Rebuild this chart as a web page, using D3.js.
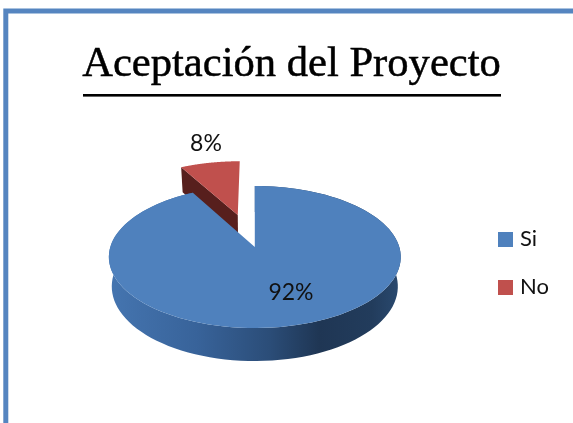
<!DOCTYPE html>
<html><head><meta charset="utf-8">
<script src="https://cdn.jsdelivr.net/npm/d3@7"></script>
<style>html,body{margin:0;padding:0;background:#fff;overflow:hidden}svg{display:block;filter:blur(0.4px)}</style>
</head><body><svg id="c" width="573" height="423"></svg>
<script>
const title = "Aceptación del Proyecto";
const categories = ["Si", "No"];
const values = [92, 8];
const labels = ["92%", "8%"];
const colors = ["#4f81bd", "#c0504d"];
const wallColors = ["#2f5583", "#571f1d"];

const svg = d3.select("#c");
const W = 573, H = 423;

// Chart frame
svg.append("path").attr("d", `M5.8,${H} V11 H${W}`).attr("fill", "none")
  .attr("stroke", "#5585c0").attr("stroke-width", 5);

// Perspective model of a tilted disc
const cx = 254.8, cy = 247, rxB = 144.5, ryA = 69.6, persp = 0.141, explode = 0.507;
function project(u, v, z) {
  const w = 1 - persp * v;
  const x = rxB * u / w, y = ryA * v / w;
  const sy = cy + y;
  const depth = z * (33 - (328 - sy) * 0.05);
  return [cx + x * (1 - 0.02 * z), sy + depth];
}
const pie = d3.pie().sort(null).value(d => d)(values);
const lineGen = d3.line();
const defs = svg.append("defs");
const grad = defs.append("linearGradient").attr("id", "wall")
  .attr("gradientUnits", "userSpaceOnUse").attr("x1", 109).attr("x2", 401).attr("y1", 0).attr("y2", 0);
[[0, "#4575b0"], [0.3, "#38639a"], [0.55, "#2b4d78"], [0.72, "#1f3654"], [0.9, "#223c5c"], [1, "#2a4a70"]]
  .forEach(s => grad.append("stop").attr("offset", s[0]).attr("stop-color", s[1]));

function slice(d) {
  const mid = (d.startAngle + d.endAngle) / 2;
  const exploded = d.index === 1;
  const ox = exploded ? explode * Math.sin(mid) : 0;
  const oy = exploded ? -explode * Math.cos(mid) : 0;
  const at = (a, r) => [ox + r * Math.sin(a), oy - r * Math.cos(a)];
  const angles = d3.range(0, 121).map(i => d.startAngle + (d.endAngle - d.startAngle) * i / 120);
  return { at, angles };
}
const P = (p, z) => project(p[0], p[1], z);

// Red (exploded) slice first, then the blue slice over it
[pie[1], pie[0]].forEach(d => {
  const { at, angles } = slice(d);
  const rim = angles.map(a => at(a, 1));
  const apex = at(0, 0);
  const g = svg.append("g");
  if (d.index === 1) {
    const corner = at(d.startAngle, 1);
    g.append("path").attr("fill", wallColors[1]).attr("d",
      lineGen([P(corner, 0), P(apex, 0), P(apex, 1), P(corner, 1)]) + "Z");
  } else {
    const top = rim.map(p => P(p, 0));
    const bot = rim.map(p => P(p, 1)).reverse();
    g.append("path").attr("fill", "url(#wall)").attr("d", lineGen(top.concat(bot)) + "Z");
  }
  g.append("path").attr("fill", colors[d.index]).attr("d",
    lineGen([P(apex, 0)].concat(rim.map(p => P(p, 0)))) + "Z");
});

// Title
svg.append("text").attr("x", 291.5).attr("y", 76).attr("text-anchor", "middle")
  .attr("font-family", "Liberation Serif").attr("font-size", 42.6).attr("fill", "#000")
  .attr("stroke", "#000").attr("stroke-width", 0.5).text(title);
svg.append("rect").attr("x", 83).attr("y", 94).attr("width", 418).attr("height", 2.6).attr("fill", "#000");

// Data labels
const lab = "Lato";
svg.append("text").attr("x", 206).attr("y", 151).attr("text-anchor", "middle")
  .attr("font-family", lab).attr("font-size", 23).attr("fill", "#111").text(labels[1]);
svg.append("text").attr("x", 291).attr("y", 300).attr("text-anchor", "middle")
  .attr("font-family", lab).attr("font-size", 23).attr("fill", "#111").text(labels[0]);

// Legend
const ly = d3.scalePoint().domain(categories).range([232, 280]);
const leg = svg.selectAll("g.leg").data(categories).join("g").attr("class", "leg");
leg.append("rect").attr("x", 498).attr("y", d => ly(d)).attr("width", 15).attr("height", 15)
  .attr("fill", (d, i) => colors[i]);
leg.append("text").attr("x", 520).attr("y", d => ly(d) + 14).attr("font-family", lab)
  .attr("font-size", 22).attr("fill", "#111").text(d => d);
</script></body></html>
